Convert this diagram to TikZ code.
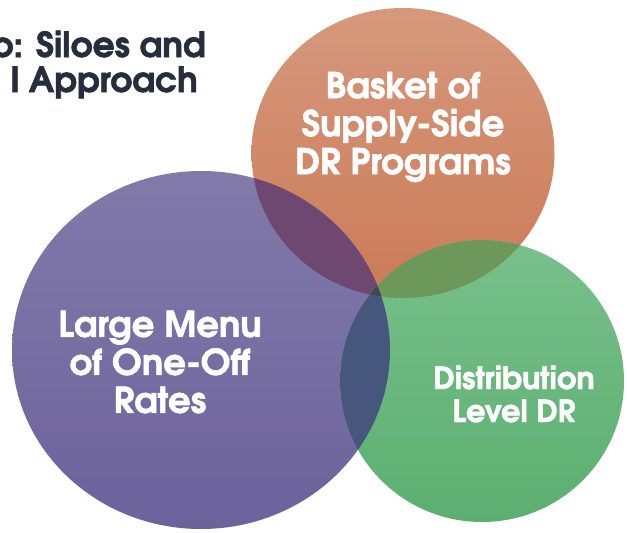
\documentclass[tikz,border=0pt]{standalone}
\usepackage{fontspec}
\setmainfont{TeX Gyre Adventor}[BoldFeatures={FakeBold=1.6}]
\definecolor{orangeTop}{RGB}{214,152,124}
\definecolor{orangeBot}{RGB}{203,123,87}
\definecolor{purpleTop}{RGB}{130,122,170}
\definecolor{purpleBot}{RGB}{108,98,156}
\definecolor{greenTop}{RGB}{120,192,140}
\definecolor{greenBot}{RGB}{92,175,112}
\definecolor{opMix}{RGB}{110,72,112}
\definecolor{pgMix}{RGB}{70,86,125}
\definecolor{ogMix}{RGB}{108,152,92}
\definecolor{allMix}{RGB}{62,70,84}
\definecolor{titleInk}{RGB}{38,46,62}
\begin{document}
\begin{tikzpicture}[x=1pt,y=-1pt,
  circlabel/.style={text=white, font=\bfseries\fontsize{35.5}{38}\selectfont, align=center, inner sep=0pt},
  smalllabel/.style={text=white, font=\bfseries\fontsize{30.5}{33}\selectfont, align=center, inner sep=0pt},
  titletext/.style={text=titleInk, font=\bfseries\fontsize{34.5}{36}\selectfont, inner sep=0pt},
]
\useasboundingbox (0,0) rectangle (627,533);
\clip (0,0) rectangle (627,533);
\fill[white] (0,0) rectangle (627,533);

% the three sets
\shade[top color=orangeTop, bottom color=orangeBot] (403,153) ellipse [x radius=151.5pt, y radius=145pt];
\shade[top color=purpleTop, bottom color=purpleBot] (201,350) ellipse [x radius=189pt, y radius=179pt];
\shade[top color=greenTop, bottom color=greenBot] (482,381) ellipse [x radius=142pt, y radius=141pt];

% pairwise overlaps
\begin{scope}
  \clip (201,350) ellipse [x radius=189pt, y radius=179pt];
  \fill[opMix] (403,153) ellipse [x radius=151.5pt, y radius=145pt];
\end{scope}
\begin{scope}
  \clip (201,350) ellipse [x radius=189pt, y radius=179pt];
  \fill[pgMix] (482,381) ellipse [x radius=142pt, y radius=141pt];
\end{scope}
\begin{scope}
  \clip (403,153) ellipse [x radius=151.5pt, y radius=145pt];
  \fill[ogMix] (482,381) ellipse [x radius=142pt, y radius=141pt];
\end{scope}
% common part of all three
\begin{scope}
  \clip (403,153) ellipse [x radius=151.5pt, y radius=145pt];
  \clip (201,350) ellipse [x radius=189pt, y radius=179pt];
  \fill[allMix] (482,381) ellipse [x radius=142pt, y radius=141pt];
\end{scope}

% labels
\node[circlabel] (supply) at (403,127) {Basket of\\Supply-Side\\DR Programs};
\node[circlabel] (rates) at (160,362) {Large Menu\\of One-Off\\Rates};
\node[smalllabel] (dist) at (514,394) {Distribution\\Level DR};

% heading, running past the left edge
\node[titletext, anchor=base east] (head1) at (206,57) {o: Siloes and};
\node[titletext, anchor=base east] (head2) at (198,92) {l Approach};
\end{tikzpicture}
\end{document}
